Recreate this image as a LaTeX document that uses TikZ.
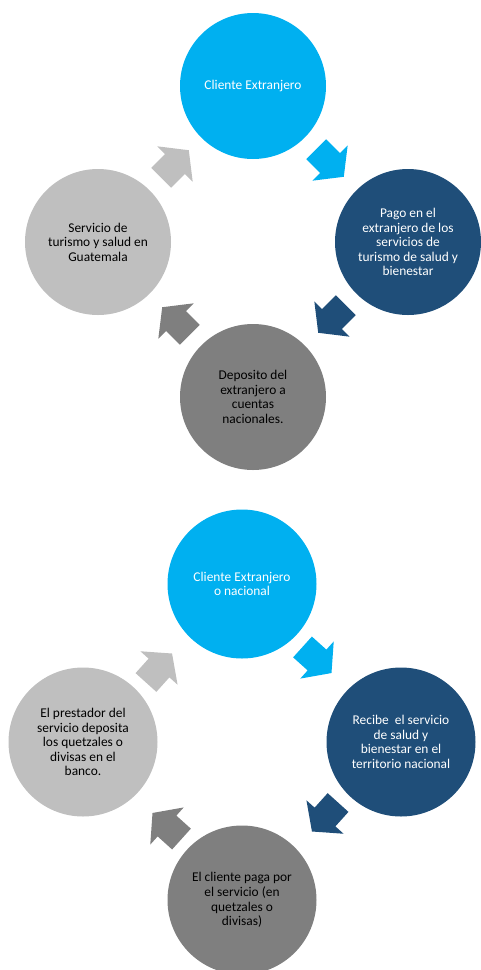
\documentclass[tikz,border=0pt]{standalone}
\usepackage{fontspec}
\setmainfont{Carlito}

\definecolor{cielo}{HTML}{00B0F0}
\definecolor{marino}{HTML}{1F4E79}
\definecolor{grisoscuro}{HTML}{7F7F7F}
\definecolor{grisclaro}{HTML}{BFBFBF}

\tikzset{
    etapa/.style={
        circle,
        inner sep=0pt,
        minimum size=146pt,
        align=center,
        node font={\fontsize{13.4pt}{14.6pt}\selectfont}},
    pics/flecha/.style={
        code={
            \fill (-19.5,-14) -- (0,-14) -- (0,-25) -- (19.5,0)
                -- (0,25) -- (0,14) -- (-19.5,14) -- cycle;
        }}
}

\begin{document}
\begin{tikzpicture}[x=1pt, y=1pt]
    \useasboundingbox (0,0) rectangle (480,-970);

    % primer ciclo
    \node[etapa, fill=cielo, text=white] (c1) at (253,-86) {Cliente Extranjero};
    \node[etapa, fill=marino, text=white] (c2) at (408,-242)
        {Pago en el\\extranjero de los\\servicios de\\turismo de salud y\\bienestar};
    \node[etapa, fill=grisoscuro, text=black] (c3) at (253,-397)
        {Deposito del\\extranjero a\\cuentas\\nacionales.};
    \node[etapa, fill=grisclaro, text=black] (c4) at (98,-242)
        {Servicio de\\turismo y salud en\\Guatemala};

    \pic[fill=cielo, rotate=-45] (f1) at (330,-163) {flecha};
    \pic[fill=marino, rotate=-135] (f2) at (332,-319) {flecha};
    \pic[fill=grisoscuro, rotate=135] (f3) at (176,-321) {flecha};
    \pic[fill=grisclaro, rotate=45] (f4) at (175,-164) {flecha};

    % segundo ciclo
    \node[etapa, fill=cielo, text=white, minimum size=149pt] (d1) at (242,-584)
        {Cliente Extranjero\\o nacional};
    \node[etapa, fill=marino, text=white, minimum size=149pt] (d2) at (401,-742)
        {Recibe\ \ el servicio\\de salud y\\bienestar en el\\territorio nacional};
    \node[etapa, fill=grisoscuro, text=black, minimum size=149pt] (d3) at (242,-900)
        {El cliente paga por\\el servicio (en\\quetzales o\\divisas)};
    \node[etapa, fill=grisclaro, text=black, minimum size=149pt] (d4) at (83,-742)
        {El prestador del\\servicio deposita\\los quetzales o\\divisas en el\\banco.};

    \pic[fill=cielo, rotate=-42] (g1) at (317,-660) {flecha};
    \pic[fill=marino, rotate=-132] (g2) at (325,-817) {flecha};
    \pic[fill=grisoscuro, rotate=138] (g3) at (167,-826) {flecha};
    \pic[fill=grisclaro, rotate=48] (g4) at (159,-668) {flecha};
\end{tikzpicture}
\end{document}
